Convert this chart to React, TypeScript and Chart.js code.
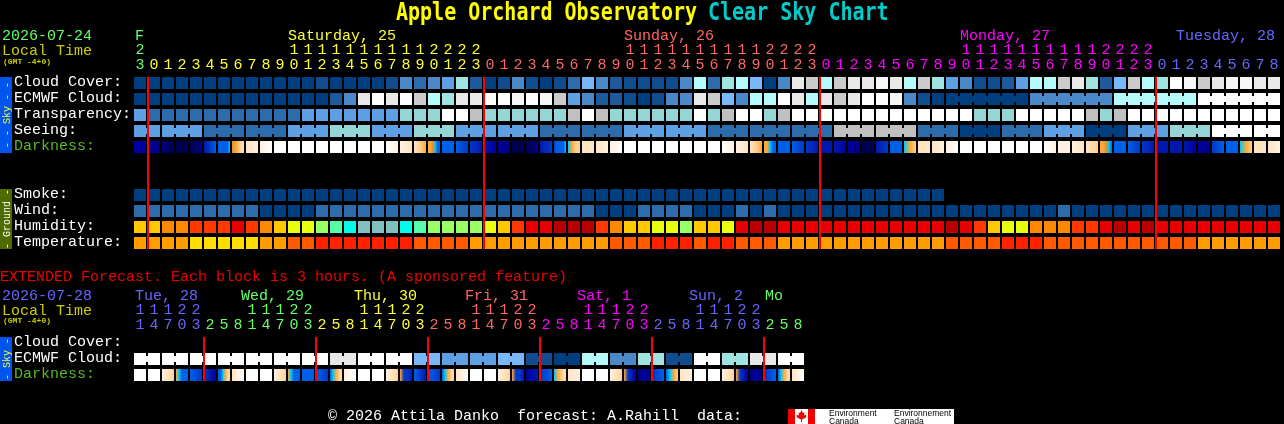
import React, { useEffect, useRef } from "react";
import { Chart, registerables } from "chart.js";

Chart.register(...registerables);

const MONO = '"Liberation Mono", monospace';
const TITLE_FONT = 'bold 20px "DejaVu Sans Mono", monospace';
const TEXT_FONT = `15px ${MONO}`;

// colour scales
const skyPalette = [
  "#003f7f", "#0f4d8e", "#1c5a9c", "#2c6cab", "#4a88c8", "#5f9fe3", "#79b8f8", "#b6fbfc",
  "#a0e4e2", "#cbcbcb", "#e8e8e8", "#f6f6f6", "#ffffff", "#95d5d5", "#c0c0c0",
];
const humidityPalette = ["#b80000", "#e60000", "#ff3800", "#ff8800", "#ffc800", "#e8ff10", "#99ff66", "#55ffaa", "#00ffea", "#80c0c0"];
const temperaturePalette = ["#ff2000", "#ff5a00", "#ff9c00", "#ffdd00"];
const darknessPalette = [
  "#000050", "#000080", "#0000a0", "#0018b0", "#0038c8", "#0060e8", "#00c8ff",
  "#e89020", "#ffa838", "#ffd090", "#ffe4c0", "#fff0e0", "#ffffff",
];
const dayColors = ["#66ff66", "#ffff33", "#ff6666", "#ff00ff", "#6666ff"];

// hourly block
const hours = [
  23, 0, 1, 2, 3, 4, 5, 6, 7, 8, 9, 10, 11, 12, 13, 14, 15, 16, 17, 18, 19, 20, 21, 22, 23,
  0, 1, 2, 3, 4, 5, 6, 7, 8, 9, 10, 11, 12, 13, 14, 15, 16, 17, 18, 19, 20, 21, 22, 23,
  0, 1, 2, 3, 4, 5, 6, 7, 8, 9, 10, 11, 12, 13, 14, 15, 16, 17, 18, 19, 20, 21, 22, 23,
  0, 1, 2, 3, 4, 5, 6, 7, 8,
];
const rowLabels = ["Cloud Cover:", "ECMWF Cloud:", "Transparency:", "Seeing:", "Darkness:", "", "", "Smoke:", "Wind:", "Humidity:", "Temperature:"];
const cloudCover = [
  0, 0, 0, 0, 0, 0, 0, 0, 0, 0, 0, 0, 0, 1, 0, 0, 0, 0, 1, 4, 3, 4, 5, 8, 2, 0, 1, 4, 1, 0, 1, 3, 6, 4, 2, 1, 1, 1, 1, 4, 7,
  3, 8, 7, 6, 0, 4, 10, 9, 7, 9, 10, 10, 11, 10, 7, 9, 8, 5, 4, 1, 1, 2, 5, 7, 7, 9, 10, 8, 2, 6, 9, 7, 8, 12, 11, 9, 10, 11, 11, 10, 10,
];
const ecmwfCloud = [
  0, 0, 0, 0, 0, 0, 0, 0, 0, 0, 0, 0, 0, 0, 2, 4, 10, 12, 10, 12, 9, 7, 8, 10, 10, 12, 12, 11, 12, 11, 9, 5, 4, 2, 2, 1, 0, 1, 4, 4, 10,
  9, 6, 4, 7, 7, 12, 10, 7, 10, 9, 10, 12, 12, 11, 4, 1, 0, 0, 0, 0, 0, 0, 0, 4, 4, 4, 4, 4, 4, 7, 7, 7, 7, 7, 7, 12, 12, 12, 12, 12, 12,
];
const ecmwfJoinedRuns = [[58, 63], [64, 69], [70, 75], [76, 81]];
const transparency = [
  5, 3, 3, 3, 3, 3, 3, 3, 3, 3, 3, 3, 5, 5, 5, 5, 5, 5, 5, 13, 13, 13, 12, 12, 14, 13, 13, 13, 13, 13, 13, 14, 12, 14, 13, 13, 13, 13, 13, 13, 12,
  13, 14, 12, 12, 13, 14, 12, 12, 12, 12, 12, 12, 12, 12, 12, 12, 12, 12, 12, 13, 13, 13, 12, 12, 12, 12, 12, 14, 13, 14, 12, 12, 12, 12, 12, 12, 12, 12, 12, 12, 12,
];
const seeingBlocks = [5, 5, 3, 3, 5, 13, 5, 13, 5, 5, 3, 3, 5, 5, 3, 3, 3, 14, 14, 3, 0, 3, 5, 0, 5, 13, 12, 12];
const seeingBlockCells = [2, 3, 3, 3, 3, 3, 3, 3, 3, 3, 3, 3, 3, 3, 3, 3, 3, 3, 3, 3, 3, 3, 3, 3, 3, 3, 3, 2];
const darkness = [
  [2, 2], [2, 1], [1, 0], [0, 0], [0, 1], [3, 4, 5], [5, 5, 5, 5, 5, 6], [7, 8, 9, 10], [10, 11], [11, 12], [12, 12], [12, 12], [12, 12], [12, 12], [12, 12], [12, 12], [12, 12], [12, 12],
  [12, 11], [11, 10], [10, 9, 8], [8, 8, 7, 6, 5, 5], [5, 5], [5, 4], [4, 3], [3, 2], [2, 1], [0, 0], [0, 1], [3, 4], [4, 5, 5, 5, 5, 6], [6, 8, 9, 9], [10, 10], [10, 11], [11, 12],
  [12, 12], [12, 12], [12, 12], [12, 12], [12, 12], [12, 12], [12, 12], [12, 11], [11, 10], [10, 9, 8], [8, 8, 6, 5, 5], [5, 5], [5, 4], [4, 3], [3, 3], [3, 2], [2, 1], [0, 0],
  [3, 4], [5, 5], [6, 8, 9], [10, 10], [10, 11], [11, 12], [12, 12], [12, 12], [12, 12], [12, 12], [12, 12], [12, 12], [12, 11], [11, 11], [11, 10], [10, 9], [8, 8, 7, 6, 5], [5, 5],
  [5, 4], [4, 3], [3, 3], [3, 3], [3, 2], [2, 1], [4, 5], [5, 5], [6, 8, 9], [10, 10], [10, 11],
];
const smoke = [
  0, 0, 0, 0, 0, 0, 0, 0, 0, 0, 0, 0, 0, 0, 0, 0, 0, 0, 0, 0, 0, 0, 0, 0, 0, 0, 0, 0, 0, 0,
  0, 0, 0, 0, 0, 0, 0, 0, 0, 0, 0, 0, 0, 0, 0, 0, 0, 0, 0, 0, 0, 0, 0, 0, 0, 0, 0, 0,
];
const wind = [
  3, 3, 3, 3, 3, 3, 3, 3, 3, 0, 0, 0, 0, 3, 3, 3, 3, 3, 3, 3, 3, 3, 3, 3, 3, 3, 3, 3, 3, 3, 3, 3, 3, 0, 0, 0, 3, 3, 3, 3, 0,
  0, 0, 3, 0, 3, 0, 0, 0, 0, 0, 0, 0, 0, 0, 0, 0, 0, 0, 0, 0, 0, 0, 0, 0, 0, 3, 0, 0, 0, 0, 0, 0, 0, 0, 0, 0, 0, 0, 0, 0, 0,
];
const humidity = [
  4, 4, 3, 3, 2, 2, 2, 1, 2, 3, 4, 5, 5, 6, 7, 8, 9, 9, 9, 8, 7, 6, 6, 6, 6, 5, 4, 2, 1, 1, 0, 0, 0, 2, 3, 4, 4, 5, 5, 6, 4,
  4, 5, 1, 0, 0, 1, 1, 1, 1, 1, 1, 1, 1, 1, 1, 1, 1, 0, 1, 2, 4, 5, 5, 3, 3, 3, 2, 2, 1, 0, 1, 0, 1, 1, 1, 1, 1, 1, 1, 1, 1,
];
const temperature = [
  2, 2, 2, 2, 3, 3, 3, 3, 3, 2, 2, 1, 1, 0, 0, 0, 0, 0, 0, 0, 1, 1, 1, 1, 2, 2, 2, 2, 2, 2, 2, 2, 2, 2, 1, 1, 1, 0, 0, 0, 1,
  0, 0, 1, 1, 1, 2, 2, 2, 2, 2, 2, 2, 2, 2, 2, 2, 2, 1, 1, 1, 1, 0, 0, 0, 1, 1, 1, 1, 1, 1, 1, 1, 1, 1, 1, 2, 2, 2, 2, 2, 2,
];
const midnightsMain = [0, 24, 48, 72];

// extended block, one column per three hours
const extHours = [
  11, 14, 17, 20, 23, 2, 5, 8, 11, 14, 17, 20, 23, 2, 5, 8, 11, 14, 17, 20, 23, 2, 5, 8,
  11, 14, 17, 20, 23, 2, 5, 8, 11, 14, 17, 20, 23, 2, 5, 8, 11, 14, 17, 20, 23, 2, 5, 8,
];
const extDayColorIndex = [
  4, 4, 4, 4, 4, 0, 0, 0, 0, 0, 0, 0, 0, 1, 1, 1, 1, 1, 1, 1, 1, 2, 2, 2,
  2, 2, 2, 2, 2, 3, 3, 3, 3, 3, 3, 3, 3, 4, 4, 4, 4, 4, 4, 4, 4, 0, 0, 0,
];
const extRowLabels = ["Cloud Cover:", "ECMWF Cloud:", "Darkness:"];
const extEcmwfBlocks = [12, 12, 12, 12, 12, 12, 12, 10, 12, 12, 6, 5, 5, 6, 1, 0, 7, 4, 8, 1, 12, 8, 10, 12];
const extEcmwfBlockCells = [2, 2, 2, 2, 2, 2, 2, 2, 2, 2, 2, 2, 2, 2, 2, 2, 2, 2, 2, 2, 2, 2, 2, 2];
const extDarkness = [
  [12, 12], [12, 12], [11, 10, 9], [8, 6, 5, 5, 5], [5, 4], [4, 3, 2], [5, 5, 6, 8, 9, 10], [10, 11, 12],
  [12, 12], [12, 12], [11, 10, 9], [8, 6, 5, 5, 5], [5, 5], [5, 4], [5, 6, 8, 9, 10], [11, 12],
  [12, 12], [12, 12], [11, 10, 9], [8, 4, 4, 3], [5, 3], [5, 4], [5, 6, 8, 9, 10], [10, 11, 12],
  [12, 12], [12, 12], [11, 10, 9], [8, 4, 4, 3], [2, 3], [4, 5], [6, 8, 9, 10], [10, 11],
  [12, 12], [12, 12], [11, 10, 9], [8, 4, 3, 2], [1, 2], [4, 5], [5, 6, 8, 9], [10, 11],
  [12, 12], [12, 12], [11, 10, 9], [8, 4, 3, 2], [1, 2], [4, 5], [5, 6, 8, 9, 10], [10, 11, 12],
];
const midnightsExt = [4, 12, 20, 28, 36, 44];

const HALF = 0.375;
const JOINT_HALF = 0.1875;
const MIDNIGHT_NUDGE = 1 / 14;
const LABEL_LIFT = 1 / 16;

function expandBlocks(levels: number[], cells: number[]) {
  const out: number[] = [];
  const joints: number[] = [];
  levels.forEach((lv, b) => {
    for (let k = 0; k < cells[b]; k++) {
      if (k > 0) joints.push(out.length - 1);
      out.push(lv);
    }
  });
  return { out, joints };
}

function flatRow(values: number[], row: number, palette: string[]) {
  return {
    data: values.map((_, i) => ({ x: i, y: [row - HALF, row + HALF] })),
    backgroundColor: values.map((v) => palette[v]),
    barThickness: 12,
  };
}
function jointRow(values: number[], joints: number[], row: number, palette: string[]) {
  return {
    data: joints.map((i) => ({ x: i + 0.5, y: [row - JOINT_HALF, row + JOINT_HALF] })),
    backgroundColor: joints.map((i) => palette[values[i]]),
    barThickness: 2,
  };
}
function darknessRow(stops: number[][], row: number) {
  return {
    data: stops.map((_, i) => ({ x: i, y: [row - HALF, row + HALF] })),
    barThickness: 12,
    backgroundColor: (c: any) => {
      const lv = stops[c.dataIndex];
      if (!lv) return "#000";
      const sc = c.chart.scales.x;
      if (!sc || !sc.width) return darknessPalette[lv[0]];
      const mid = sc.getPixelForValue(c.dataIndex);
      const g = c.chart.ctx.createLinearGradient(mid - 6, 0, mid + 6, 0);
      lv.forEach((v: number, k: number) => g.addColorStop(k / (lv.length - 1), darknessPalette[v]));
      return g;
    },
  };
}
function midnightRow(cols: number[], top: number, bottom: number) {
  return {
    data: cols.map((i) => ({ x: i + 0.5 + MIDNIGHT_NUDGE, y: [top - HALF, bottom + HALF] })),
    backgroundColor: "#ff0000",
    barThickness: 2,
  };
}
function txt(ctx: CanvasRenderingContext2D, s: string, x: number, y: number, color: string, font = TEXT_FONT) {
  ctx.font = font;
  ctx.fillStyle = color;
  ctx.textAlign = "left";
  ctx.textBaseline = "alphabetic";
  ctx.fillText(s, x, y);
}
function tallTxt(ctx: CanvasRenderingContext2D, s: string, x: number, y: number, color: string) {
  ctx.save();
  ctx.translate(x, y);
  ctx.scale(1, 1.2);
  txt(ctx, s, 0, 0, color, TITLE_FONT);
  ctx.restore();
}
function sideStrip(ctx: CanvasRenderingContext2D, top: number, bottom: number, fill: string, color: string, label: string) {
  ctx.save();
  ctx.fillStyle = fill;
  ctx.fillRect(0, top, 12, bottom - top);
  ctx.translate(9.5, (top + bottom) / 2);
  ctx.rotate(-Math.PI / 2);
  ctx.font = `10px ${MONO}`;
  ctx.fillStyle = color;
  ctx.textAlign = "center";
  ctx.textBaseline = "alphabetic";
  ctx.fillText(label, 0, 0);
  ctx.restore();
}

function axes(opts: {
  colCount: number;
  rows: string[];
  rowMin: number;
  rowMax: number;
  axisHeight: number;
  tickColor: (i: number) => string;
  hourList: number[];
}) {
  return {
    x: {
      type: "linear",
      position: "top",
      offset: false,
      min: -0.5,
      max: opts.colCount - 0.5,
      afterBuildTicks: (a: any) => {
        a.ticks = opts.hourList.map((_, i) => ({ value: i }));
      },
      afterFit: (a: any) => {
        a.height = opts.axisHeight;
        a.paddingLeft = 0;
        a.paddingRight = 0;
      },
      grid: { display: false, drawTicks: false, offset: false },
      border: { display: false },
      ticks: {
        autoSkip: false,
        maxRotation: 0,
        minRotation: 0,
        padding: 2,
        font: { family: "Liberation Mono", size: 15, lineHeight: "15px" },
        color: (c: any) => opts.tickColor(c.index),
        callback: (_: any, i: number) => {
          const h = opts.hourList[i];
          return h >= 10 ? [String(Math.floor(h / 10)), String(h % 10)] : String(h);
        },
      },
    },
    y: {
      type: "linear",
      reverse: true,
      offset: false,
      min: opts.rowMin,
      max: opts.rowMax,
      afterBuildTicks: (a: any) => {
        a.ticks = opts.rows.map((_, i) => ({ value: i - LABEL_LIFT }));
      },
      afterFit: (a: any) => {
        a.width = 119;
      },
      grid: { display: false, drawTicks: false },
      border: { display: false },
      ticks: {
        autoSkip: false,
        crossAlign: "far",
        padding: 0,
        font: { family: "Liberation Mono", size: 15 },
        color: (c: any) => (opts.rows[c.index] === "Darkness:" ? "#55bb22" : "#ffffff"),
        callback: (_: any, i: number) => opts.rows[i],
      },
    },
  };
}

const baseOptions = {
  animation: false,
  responsive: false,
  devicePixelRatio: 1,
  events: [] as string[],
  plugins: { legend: { display: false }, tooltip: { enabled: false } },
  datasets: { bar: { grouped: false, inflateAmount: 0, borderWidth: 0 } },
};

function mainColorIndex(i: number) {
  let day = 0;
  for (let k = 1; k <= i; k++) if (hours[k] === 0) day++;
  return day;
}

export default function App() {
  const mainRef = useRef<HTMLCanvasElement>(null);
  const extRef = useRef<HTMLCanvasElement>(null);

  useEffect(() => {
    document.body.style.margin = "0";
    document.body.style.background = "#000";
    document.body.style.overflow = "hidden";

    const seeing = expandBlocks(seeingBlocks, seeingBlockCells);
    const ecmwfJoints: number[] = [];
    ecmwfJoinedRuns.forEach(([a, b]) => {
      for (let i = a; i < b; i++) ecmwfJoints.push(i);
    });
    const ext = expandBlocks(extEcmwfBlocks, extEcmwfBlockCells);

    const mainText = {
      id: "mainText",
      beforeDraw(chart: any) {
        const ctx = chart.ctx as CanvasRenderingContext2D;
        const x = chart.scales.x;
        const colLeft = (i: number) => x.getPixelForValue(i) - 6;
        tallTxt(ctx, "Apple Orchard Observatory", 396, 20, "#ffff00");
        tallTxt(ctx, "Clear Sky Chart", 708, 20, "#00cccc");
        txt(ctx, "2026-07-24", 2, 40, dayColors[0]);
        txt(ctx, "Local Time", 2, 55, "#cccc00");
        txt(ctx, "(GMT -4+0)", 3, 64, "#cccc00", `bold 8px ${MONO}`);
        txt(ctx, "F", colLeft(0) + 1, 40, dayColors[0]);
        txt(ctx, "Saturday, 25", colLeft(11), 40, dayColors[1]);
        txt(ctx, "Sunday, 26", colLeft(35), 40, dayColors[2]);
        txt(ctx, "Monday, 27", colLeft(59), 40, dayColors[3]);
        txt(ctx, "Tuesday, 28", 1176, 40, dayColors[4]);
        sideStrip(ctx, 77, 153, "#0055ee", "#ffff33", "- - Sky - -");
        sideStrip(ctx, 189, 249, "#4f6b00", "#ffffff", "- Ground -");
      },
    };

    const main = new Chart(mainRef.current as HTMLCanvasElement, {
      type: "bar",
      plugins: [mainText],
      data: {
        datasets: [
          midnightRow(midnightsMain, 0, 10),
          jointRow(ecmwfCloud, ecmwfJoints, 1, skyPalette),
          jointRow(seeing.out, seeing.joints, 3, skyPalette),
          flatRow(cloudCover, 0, skyPalette),
          flatRow(ecmwfCloud, 1, skyPalette),
          flatRow(transparency, 2, skyPalette),
          flatRow(seeing.out, 3, skyPalette),
          darknessRow(darkness, 4),
          flatRow(smoke, 7, skyPalette),
          flatRow(wind, 8, skyPalette),
          flatRow(humidity, 9, humidityPalette),
          flatRow(temperature, 10, temperaturePalette),
        ],
      },
      options: {
        ...baseOptions,
        layout: { padding: { left: 14, right: 3, top: 0, bottom: 11 } },
        scales: axes({
          colCount: hours.length,
          rows: rowLabels,
          rowMin: -0.5,
          rowMax: 10.5,
          axisHeight: 75,
          hourList: hours,
          tickColor: (i) => dayColors[mainColorIndex(i)],
        }),
      },
    } as any);

    const extText = {
      id: "extText",
      beforeDraw(chart: any) {
        const ctx = chart.ctx as CanvasRenderingContext2D;
        const T = 262;
        txt(ctx, "EXTENDED Forecast. Each block is 3 hours. (A sponsored feature)", 0, 281 - T, "#ee0000");
        txt(ctx, "2026-07-28", 2, 300 - T, dayColors[4]);
        txt(ctx, "Local Time", 2, 315 - T, "#cccc00");
        txt(ctx, "(GMT -4+0)", 3, 323 - T, "#cccc00", `bold 8px ${MONO}`);
        txt(ctx, "Tue, 28", 135, 300 - T, dayColors[4]);
        txt(ctx, "Wed, 29", 241, 300 - T, dayColors[0]);
        txt(ctx, "Thu, 30", 354, 300 - T, dayColors[1]);
        txt(ctx, "Fri, 31", 465, 300 - T, dayColors[2]);
        txt(ctx, "Sat, 1", 577, 300 - T, dayColors[3]);
        txt(ctx, "Sun, 2", 689, 300 - T, dayColors[4]);
        txt(ctx, "Mo", 765, 300 - T, dayColors[0]);
        sideStrip(ctx, 337 - T, 381 - T, "#0055ee", "#ffff33", "- Sky -");
        txt(ctx, "\u00a9 2026 Attila Danko  forecast: A.Rahill  data:", 328, 420 - T, "#ffffff");
        // Environment Canada logo
        ctx.fillStyle = "#ffffff";
        ctx.fillRect(788, 409 - T, 166, 15);
        ctx.fillStyle = "#ee0000";
        ctx.fillRect(788, 409 - T, 7, 15);
        ctx.fillRect(808, 409 - T, 7, 15);
        const cx = 801.5;
        const cy = 416 - T;
        ctx.beginPath();
        ctx.moveTo(cx, cy - 6);
        ctx.lineTo(cx + 1.5, cy - 3);
        ctx.lineTo(cx + 3, cy - 3.5);
        ctx.lineTo(cx + 2.5, cy - 0.5);
        ctx.lineTo(cx + 5, cy - 1.5);
        ctx.lineTo(cx + 4.5, cy + 1.5);
        ctx.lineTo(cx + 0.5, cy + 3.5);
        ctx.lineTo(cx + 0.5, cy + 6);
        ctx.lineTo(cx - 0.5, cy + 6);
        ctx.lineTo(cx - 0.5, cy + 3.5);
        ctx.lineTo(cx - 4.5, cy + 1.5);
        ctx.lineTo(cx - 5, cy - 1.5);
        ctx.lineTo(cx - 2.5, cy - 0.5);
        ctx.lineTo(cx - 3, cy - 3.5);
        ctx.lineTo(cx - 1.5, cy - 3);
        ctx.closePath();
        ctx.fill();
        const small = '8.5px "Liberation Sans", sans-serif';
        txt(ctx, "Environment", 829, 416 - T, "#000000", small);
        txt(ctx, "Canada", 829, 424 - T, "#000000", small);
        txt(ctx, "Environnement", 894, 416 - T, "#000000", small);
        txt(ctx, "Canada", 894, 424 - T, "#000000", small);
      },
    };

    const extChart = new Chart(extRef.current as HTMLCanvasElement, {
      type: "bar",
      plugins: [extText],
      data: {
        datasets: [
          midnightRow(midnightsExt, 0, 2),
          jointRow(ext.out, ext.joints, 1, skyPalette),
          flatRow(ext.out, 1, skyPalette),
          darknessRow(extDarkness, 2),
        ],
      },
      options: {
        ...baseOptions,
        layout: { padding: { left: 14, right: 479, top: 0, bottom: 41 } },
        scales: axes({
          colCount: extHours.length,
          rows: extRowLabels,
          rowMin: -0.5,
          rowMax: 2.5,
          axisHeight: 73,
          hourList: extHours,
          tickColor: (i) => dayColors[extDayColorIndex[i]],
        }),
      },
    } as any);

    return () => {
      main.destroy();
      extChart.destroy();
    };
  }, []);

  return (
    <div style={{ position: "relative", width: 1284, height: 424, background: "#000", overflow: "hidden" }}>
      <canvas ref={mainRef} width={1284} height={262} style={{ position: "absolute", left: 0, top: 0, display: "block" }} />
      <canvas ref={extRef} width={1284} height={162} style={{ position: "absolute", left: 0, top: 262, display: "block" }} />
    </div>
  );
}
